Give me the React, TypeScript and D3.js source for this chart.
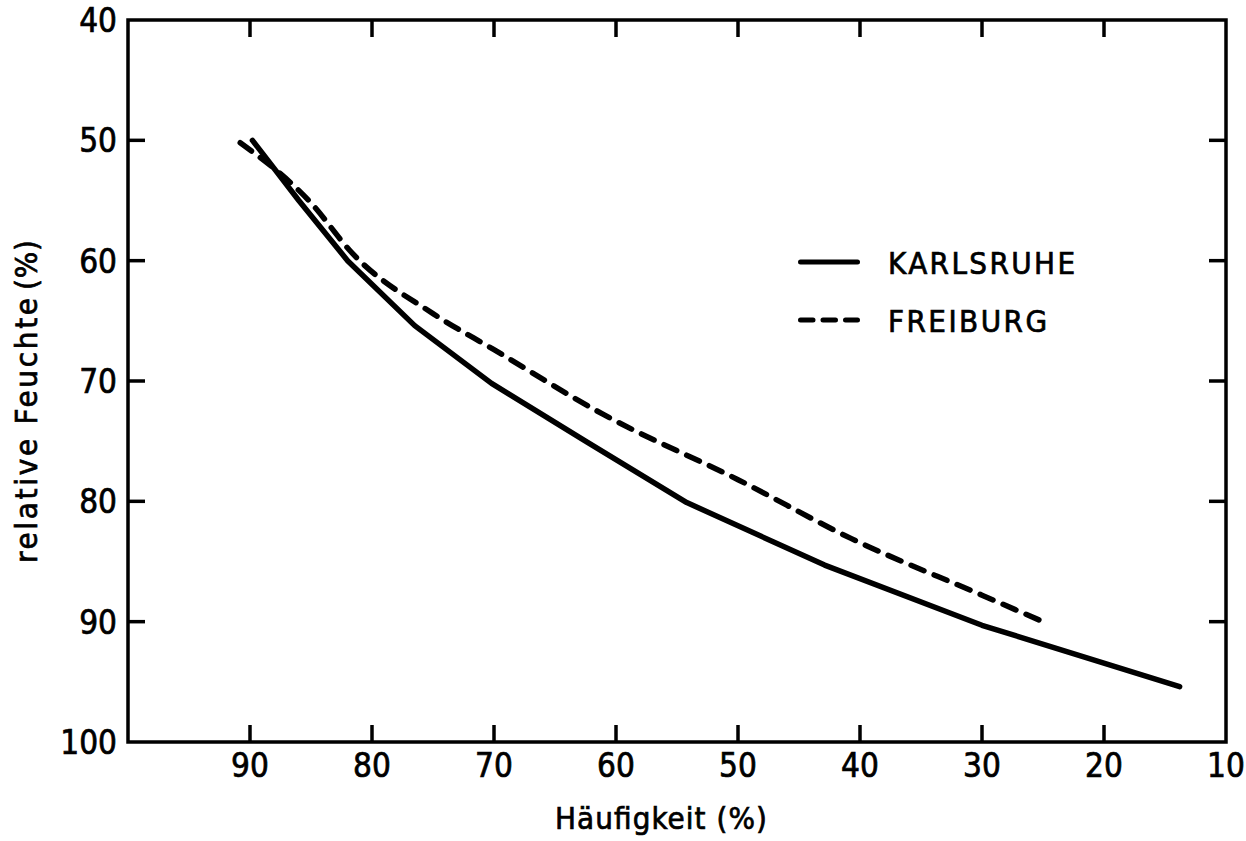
import React, { useEffect, useRef } from "react";
import * as d3 from "d3";

// values
const karlsruheX = [89.8, 86, 82, 76.5, 70.2, 62.5, 54.2, 42.9, 30, 13.8];
const karlsruheY = [50, 55, 60, 65.4, 70.2, 75, 80.1, 85.3, 90.3, 95.4];
const freiburgX = [90.8, 85, 81.6, 75, 70, 61, 50, 40.7, 30, 25];
const freiburgY = [50.2, 55.2, 59.4, 64.4, 67.4, 72.8, 78.2, 83.1, 87.8, 90];
const xTicks = [90, 80, 70, 60, 50, 40, 30, 20];
const xLabels = [90, 80, 70, 60, 50, 40, 30, 20, 10];
const yTicks = [50, 60, 70, 80, 90];
const yLabels = [40, 50, 60, 70, 80, 90, 100];
const seriesNames = ["KARLSRUHE", "FREIBURG"];
const legendWidths = [187, 159];

const FONT = "'DejaVu Sans Condensed', 'Liberation Sans', sans-serif";

const App = () => {
  const svgRef = useRef(null);

  useEffect(() => {
    const svg = d3.select(svgRef.current);
    svg.selectAll("*").remove();

    const width = 1246;
    const height = 841;
    const left = 128;
    const right = 1226;
    const top = 20;
    const bottom = 742;
    const tickLen = 17;

    const x = d3.scaleLinear().domain([100, 10]).range([left, right]);
    const y = d3.scaleLinear().domain([40, 100]).range([top, bottom]);

    svg.attr("width", width).attr("height", height);

    // frame
    svg
      .append("rect")
      .attr("x", left)
      .attr("y", top)
      .attr("width", right - left)
      .attr("height", bottom - top)
      .attr("fill", "none")
      .attr("stroke", "#000")
      .attr("stroke-width", 3.5);

    // inward ticks on all four sides
    const g = svg.append("g").attr("stroke", "#000").attr("stroke-width", 3.5);
    xTicks.forEach((t) => {
      g.append("line")
        .attr("x1", x(t)).attr("x2", x(t))
        .attr("y1", top).attr("y2", top + tickLen);
      g.append("line")
        .attr("x1", x(t)).attr("x2", x(t))
        .attr("y1", bottom).attr("y2", bottom - tickLen);
    });
    yTicks.forEach((t) => {
      g.append("line")
        .attr("x1", left).attr("x2", left + tickLen)
        .attr("y1", y(t)).attr("y2", y(t));
      g.append("line")
        .attr("x1", right).attr("x2", right - tickLen)
        .attr("y1", y(t)).attr("y2", y(t));
    });

    const txt = (sel, size) =>
      sel
        .style("font-family", FONT)
        .style("font-size", size + "px")
        .attr("fill", "#000")
        .attr("stroke", "#000")
        .attr("stroke-width", 0.7);

    // tick labels
    txt(
      svg
        .selectAll(".xl")
        .data(xLabels)
        .enter()
        .append("text")
        .attr("x", (d) => x(d))
        .attr("y", 777)
        .attr("text-anchor", "middle")
        .text((d) => d),
      33
    );

    txt(
      svg
        .selectAll(".yl")
        .data(yLabels)
        .enter()
        .append("text")
        .attr("x", 117)
        .attr("y", (d) => y(d) + 12)
        .attr("text-anchor", "end")
        .text((d) => d),
      33
    );

    // axis titles
    txt(
      svg
        .append("text")
        .attr("x", 555)
        .attr("y", 829)
        .attr("textLength", 212)
        .attr("lengthAdjust", "spacing")
        .text("Häufigkeit (%)"),
      31
    );

    txt(
      svg
        .append("text")
        .attr("transform", "translate(37,563) rotate(-90)")
        .attr("textLength", 265)
        .attr("lengthAdjust", "spacing")
        .text("relative Feuchte"),
      31
    );
    txt(
      svg
        .append("text")
        .attr("transform", "translate(37,290) rotate(-90)")
        .attr("textLength", 50)
        .attr("lengthAdjust", "spacing")
        .text("(%)"),
      31
    );

    // curves
    const line = d3
      .line()
      .x((d) => x(d[0]))
      .y((d) => y(d[1]));

    const karlsruhe = karlsruheX.map((v, i) => [v, karlsruheY[i]]);
    const freiburg = freiburgX.map((v, i) => [v, freiburgY[i]]);

    svg
      .append("path")
      .attr("d", line.curve(d3.curveLinear)(karlsruhe))
      .attr("fill", "none")
      .attr("stroke", "#000")
      .attr("stroke-width", 5.5)
      .attr("stroke-linejoin", "round")
      .attr("stroke-linecap", "round");

    svg
      .append("path")
      .attr("d", line.curve(d3.curveMonotoneX)(freiburg))
      .attr("fill", "none")
      .attr("stroke", "#000")
      .attr("stroke-width", 5.5)
      .attr("stroke-dasharray", "14 11")
      .attr("stroke-linecap", "round");

    // legend
    const legendY = [262, 320];
    const legendBase = [274, 332];
    seriesNames.forEach((name, i) => {
      svg
        .append("line")
        .attr("x1", 800.5)
        .attr("x2", 857.5)
        .attr("y1", legendY[i])
        .attr("y2", legendY[i])
        .attr("stroke", "#000")
        .attr("stroke-width", 5)
        .attr("stroke-linecap", "round")
        .attr("stroke-dasharray", i === 0 ? null : "12.5 10");
      txt(
        svg
          .append("text")
          .attr("x", 888)
          .attr("y", legendBase[i])
          .attr("textLength", legendWidths[i])
          .attr("lengthAdjust", "spacing")
          .text(name),
        31
      );
    });
  }, []);

  return (
    <svg
      ref={svgRef}
      width="1246"
      height="841"
      style={{ position: "absolute", left: 0, top: 0, background: "#fff" }}
    ></svg>
  );
};

export default App;
